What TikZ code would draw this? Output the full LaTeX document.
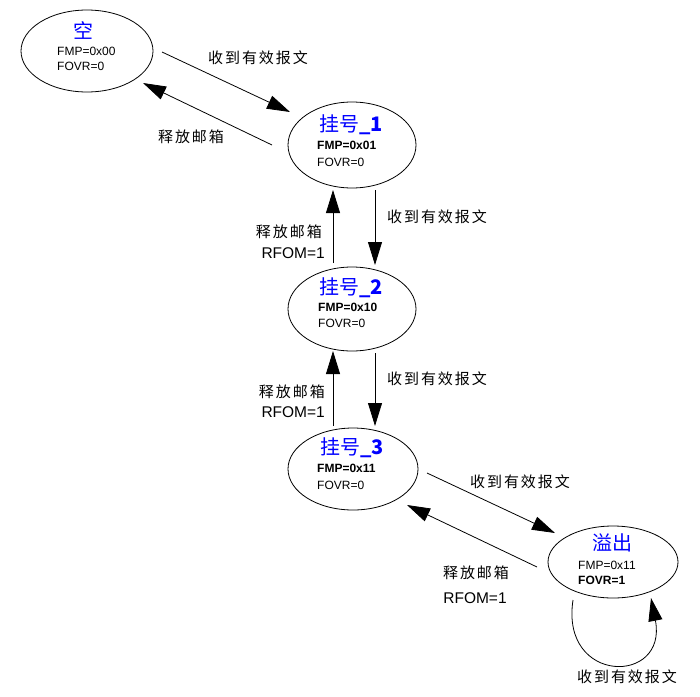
\documentclass[tikz,border=0pt]{standalone}
\usepackage{fontspec}
\setmainfont{Liberation Sans}
\newfontfamily\cjk{Noto Sans CJK SC}
\newfontfamily\cjklab[LetterSpace=13]{Noto Sans CJK SC}
\usetikzlibrary{arrows.meta,calc,shapes.geometric}
\definecolor{ttlblue}{RGB}{0,0,255}
\tikzset{
  st/.style={draw,ellipse,line width=0.8pt,inner sep=0pt},
  ttl/.style={text=ttlblue,font=\fontsize{20}{22}\selectfont,inner sep=0pt},
  info/.style={anchor=west,font=\fontsize{12}{14}\selectfont,inner sep=0pt},
  lab/.style={font=\fontsize{15}{17}\selectfont\cjklab,inner sep=0pt},
  rf/.style={font=\fontsize{15.5}{17}\selectfont,inner sep=0pt},
  arr/.style={line width=0.8pt,-{Triangle[length=23pt,width=14pt]}}
}
\begin{document}
\begin{tikzpicture}[x=1pt,y=-1pt]
\useasboundingbox (0,0) rectangle (700,696);
% states
\node[st,minimum width=132pt,minimum height=82pt] (s0) at (87,51) {};
\node[st,minimum width=128pt,minimum height=86pt] (s1) at (352,145) {};
\node[st,minimum width=128pt,minimum height=84pt] (s2) at (352,309) {};
\node[st,minimum width=130pt,minimum height=82pt] (s3) at (353,469) {};
\node[st,minimum width=130pt,minimum height=72pt] (s4) at (613,562) {};
% state texts
\node[ttl] (s0t) at (83,30) {\cjk 空};
\node[info] (s0a) at (57,51) {FMP=0x00};
\node[info] (s0b) at (57,66) {FOVR=0};
\node[ttl] (s1t) at (351,125) {\cjk 挂号\textbf{\_1}};
\node[info] (s1a) at (317,145) {\textbf{FMP=0x01}};
\node[info] (s1b) at (317,162) {FOVR=0};
\node[ttl] (s2t) at (351,288) {\cjk 挂号\textbf{\_2}};
\node[info] (s2a) at (318,307) {\textbf{FMP=0x10}};
\node[info] (s2b) at (318,323) {FOVR=0};
\node[ttl] (s3t) at (352,448) {\cjk 挂号\textbf{\_3}};
\node[info] (s3a) at (317,468) {\textbf{FMP=0x11}};
\node[info] (s3b) at (317,485) {FOVR=0};
\node[ttl] (s4t) at (612,543) {\cjk 溢出};
\node[info] (s4a) at (578,565) {FMP=0x11};
\node[info] (s4b) at (578,580) {\textbf{FOVR=1}};
% connectors
\draw[arr] ($(s0)+(75,1)$) -- ($(s1)+(-62,-33)$);
\draw[arr] ($(s1)+(-80,0)$) -- ($(s0)+(56,32)$);
\draw[arr] ($(s1)+(23,45)$) -- ($(s2)+(23,-44)$);
\draw[arr] ($(s2)+(-19,-46)$) -- ($(s1)+(-19,45)$);
\draw[arr] ($(s2)+(23,44)$) -- ($(s3)+(22,-43)$);
\draw[arr] ($(s3)+(-20,-43)$) -- ($(s2)+(-19,42)$);
\draw[arr] ($(s3)+(74,4)$) -- ($(s4)+(-58,-29)$);
\draw[arr] ($(s4)+(-76,5)$) -- ($(s3)+(54,36)$);
\draw[arr] ($(s4)+(-40,38)$) .. controls ($(s4)+(-53,123)$) and ($(s4)+(55,123)$) .. ($(s4)+(38,36)$);
% labels
\node[lab] (l1) at (258,58) {收到有效报文};
\node[lab] (l2) at (191,137) {释放邮箱};
\node[lab] (l3) at (437,217) {收到有效报文};
\node[lab,anchor=east] (l4) at (322,232) {释放邮箱};
\node[rf,anchor=east] (l4b) at (325,253) {RFOM=1};
\node[lab] (l5) at (437,379) {收到有效报文};
\node[lab,anchor=east] (l6) at (325,392) {释放邮箱};
\node[rf,anchor=east] (l6b) at (325,412) {RFOM=1};
\node[lab] (l7) at (520,482) {收到有效报文};
\node[lab] (l8) at (476,573) {释放邮箱};
\node[rf] (l8b) at (475,598) {RFOM=1};
\node[lab] (l9) at (627,677) {收到有效报文};
\end{tikzpicture}
\end{document}
